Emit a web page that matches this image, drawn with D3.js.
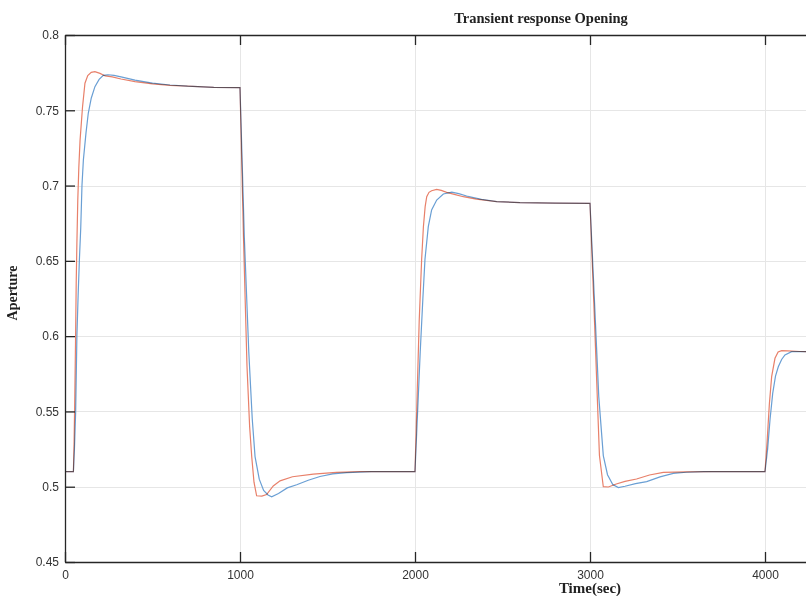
<!DOCTYPE html>
<html><head><meta charset="utf-8">
<script src="https://cdn.jsdelivr.net/npm/d3@7"></script>
<style>body{margin:0;background:#fff} svg{display:block;background:#fff}</style>
</head><body><svg id="c" width="806" height="596"></svg>
<script>
// ---- data ----
const timeRed = [0,48,52,56,60,64,68,73,79,86,100,114,130,150,171,200,230,270,320,400,500,600,700,850,1000,
  1020,1040,1055,1067,1080,1095,1125,1152,1190,1229,1300,1419,1550,1686,2000,
  2012,2024,2038,2048,2058,2067,2080,2095,2124,2150,2181,2230,2276,2350,2467,2600,2800,3000,
  3025,3054,3076,3105,3150,3200,3266,3340,3419,3550,3700,4000,
  4012,4025,4038,4057,4075,4095,4130,4200,4300,5000];
const apertureRed = [0.51,0.51,0.53,0.56,0.595,0.635,0.662,0.69,0.712,0.730,0.752,0.768,0.773,0.7752,0.7756,0.7745,0.7728,0.7722,0.7708,0.769,0.7675,0.7665,0.766,0.7652,0.765,
  0.665,0.58,0.54,0.52,0.503,0.494,0.4938,0.4948,0.5005,0.5039,0.5066,0.5083,0.5095,0.51,0.51,
  0.56,0.61,0.651,0.6727,0.686,0.6926,0.6955,0.6966,0.6975,0.6968,0.6955,0.694,0.6926,0.691,0.6893,0.6887,0.6884,0.6882,
  0.612,0.5207,0.500,0.4998,0.5018,0.5035,0.5051,0.5078,0.5095,0.5099,0.51,0.51,
  0.53,0.555,0.5731,0.5853,0.5895,0.5904,0.5902,0.5898,0.5896,0.5895];

const timeBlue = [0,48,54,61,68,75,82,90,97,105,120,133,150,171,195,219,245,280,320,400,500,600,700,850,1000,
  1025,1050,1070,1086,1110,1135,1160,1181,1220,1270,1324,1390,1457,1530,1610,1750,2000,
  2015,2030,2045,2057,2076,2095,2124,2162,2210,2250,2295,2380,2467,2600,2800,3000,
  3025,3050,3076,3100,3130,3162,3200,3260,3324,3400,3476,3550,3650,4000,
  4015,4029,4044,4060,4076,4095,4114,4152,4200,4300,5000];
const apertureBlue = [0.51,0.51,0.525,0.55,0.60,0.627,0.65,0.672,0.70,0.717,0.735,0.748,0.758,0.7657,0.7705,0.7732,0.7736,0.7732,0.7722,0.770,0.768,0.7668,0.766,0.7652,0.765,
  0.665,0.59,0.545,0.52,0.505,0.4975,0.4945,0.4933,0.4955,0.4992,0.5013,0.5043,0.5068,0.5085,0.5094,0.51,0.51,
  0.55,0.59,0.625,0.651,0.6727,0.6838,0.6904,0.6944,0.6956,0.6947,0.6931,0.6908,0.6893,0.6887,0.6884,0.6882,
  0.625,0.56,0.5207,0.508,0.5015,0.4994,0.5003,0.502,0.5034,0.5065,0.5088,0.5096,0.51,0.51,
  0.525,0.545,0.562,0.5735,0.5797,0.5845,0.5875,0.5897,0.5898,0.5896,0.5895];

const xTicks = [0,1000,2000,3000,4000];
const yTicks = [0.45,0.5,0.55,0.6,0.65,0.7,0.75,0.8];
const yTickLabels = ["0.45","0.5","0.55","0.6","0.65","0.7","0.75","0.8"];
const title = "Transient response Opening";
const xLabel = "Time(sec)";
const yLabel = "Aperture";

// ---- drawing ----
const svg = d3.select("#c");
const x = d3.scaleLinear().domain([0,5000]).range([65,940]);
const y = d3.scaleLinear().domain([0.45,0.8]).range([562,35]);

svg.append("defs").append("clipPath").attr("id","plot")
  .append("rect").attr("x",65).attr("y",35).attr("width",875).attr("height",527);

// grid
const grid = svg.append("g").attr("stroke","#e6e6e6").attr("stroke-width",1);
grid.selectAll(".gx").data(xTicks.slice(1)).join("line")
  .attr("x1",d=>Math.round(x(d))+0.5).attr("x2",d=>Math.round(x(d))+0.5)
  .attr("y1",y(0.8)).attr("y2",y(0.45));
grid.selectAll(".gy").data(yTicks.slice(1,-1)).join("line")
  .attr("y1",d=>Math.round(y(d))+0.5).attr("y2",d=>Math.round(y(d))+0.5)
  .attr("x1",x(0)).attr("x2",x(5000));

// series
const line = d3.line().x(d=>x(d[0])).y(d=>y(d[1]));
const lines = svg.append("g").attr("clip-path","url(#plot)").attr("fill","none");
lines.append("path").datum(timeBlue.map((t,i)=>[t,apertureBlue[i]]))
  .attr("d",line).attr("stroke","#6a9fd4").attr("stroke-width",1.2)
  .style("mix-blend-mode","multiply");
lines.append("path").datum(timeRed.map((t,i)=>[t,apertureRed[i]]))
  .attr("d",line).attr("stroke","#e8806a").attr("stroke-width",1.2)
  .style("mix-blend-mode","multiply");

// axes
function styleAxis(g){
  g.select(".domain").attr("stroke","#262626").attr("stroke-width",1.3);
  g.selectAll(".tick line").attr("stroke","#262626").attr("stroke-width",1.3);
  g.selectAll(".tick text").attr("fill","#333").attr("font-family","'Liberation Sans', Arial, sans-serif").attr("font-size",12);
}
svg.append("g").attr("transform",`translate(${x(0)},0)`)
  .call(d3.axisLeft(y).tickValues(yTicks).tickFormat((d,i)=>yTickLabels[i]).tickSizeInner(-10).tickSizeOuter(0).tickPadding(6))
  .call(styleAxis);
svg.append("g").attr("transform",`translate(0,${y(0.45)})`)
  .call(d3.axisBottom(x).tickValues(xTicks).tickFormat(d3.format("d")).tickSizeInner(-10).tickSizeOuter(0).tickPadding(8))
  .call(styleAxis);
svg.append("g").attr("transform",`translate(0,${y(0.8)})`)
  .call(d3.axisTop(x).tickValues(xTicks).tickFormat("").tickSizeInner(-10).tickSizeOuter(0))
  .call(styleAxis);

// texts
svg.append("text").attr("x",541).attr("y",23).attr("text-anchor","middle")
  .attr("font-family","'Liberation Serif', 'Times New Roman', serif").attr("font-weight","bold")
  .attr("font-size",14.5).attr("fill","#222").text(title);
svg.append("text").attr("x",590).attr("y",593).attr("text-anchor","middle")
  .attr("font-family","'Liberation Serif', 'Times New Roman', serif").attr("font-weight","bold")
  .attr("font-size",15).attr("fill","#222").text(xLabel);
svg.append("text").attr("transform","translate(17,293) rotate(-90)").attr("text-anchor","middle")
  .attr("font-family","'Liberation Serif', 'Times New Roman', serif").attr("font-weight","bold")
  .attr("font-size",14).attr("fill","#222").text(yLabel);
</script>
</body></html>
